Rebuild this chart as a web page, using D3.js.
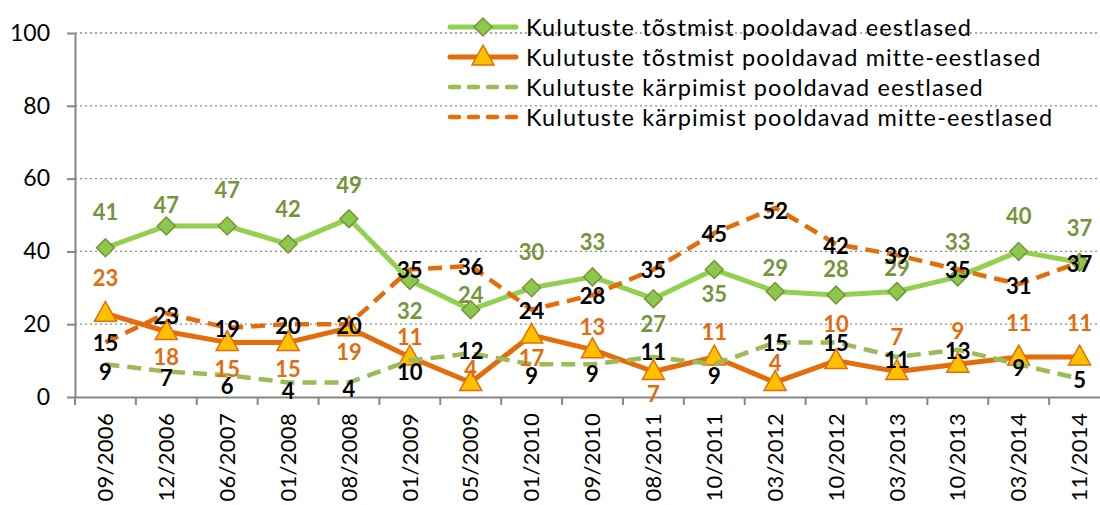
<!DOCTYPE html>
<html>
<head>
<meta charset="utf-8">
<script src="https://cdn.jsdelivr.net/npm/d3@7"></script>
<style>
  body { margin: 0; background: #fff; }
  svg { display: block; font-family: Lato, "Open Sans", sans-serif; }
  .grid line { stroke: #8a8a8a; stroke-width: 1.3; stroke-dasharray: 2 3; }
  .axis path, .axis line { stroke: #878787; stroke-width: 2; }
  .axis text { fill: #000; }
  .vlabel { font-weight: bold; font-size: 22px; text-anchor: middle; dominant-baseline: central; }
  .legend text { font-size: 23.5px; letter-spacing: 1.1px; dominant-baseline: central; }
</style>
</head>
<body>
<svg id="chart" width="1100" height="505"></svg>
<script>
'use strict';

// survey dates
const categories = ['09/2006', '12/2006', '06/2007', '01/2008', '08/2008', '01/2009', '05/2009',
  '01/2010', '09/2010', '08/2011', '10/2011', '03/2012', '10/2012', '03/2013', '10/2013',
  '03/2014', '11/2014'];

const seriesNames = [
  'Kulutuste tõstmist pooldavad eestlased',
  'Kulutuste tõstmist pooldavad mitte-eestlased',
  'Kulutuste kärpimist pooldavad eestlased',
  'Kulutuste kärpimist pooldavad mitte-eestlased',
];

// values in %
const raiseEst = [41, 47, 47, 42, 49, 32, 24, 30, 33, 27, 35, 29, 28, 29, 33, 40, 37];
const raiseNonEst = [23, 18, 15, 15, 19, 11, 4, 17, 13, 7, 11, 4, 10, 7, 9, 11, 11];
const cutEst = [9, 7, 6, 4, 4, 10, 12, 9, 9, 11, 9, 15, 15, 11, 13, 9, 5];
const cutNonEst = [15, 23, 19, 20, 20, 35, 36, 24, 28, 35, 45, 52, 42, 39, 35, 31, 37];

const yTicks = [0, 20, 40, 60, 80, 100];

// where the data labels sit relative to their point (px, vertical)
const labelDy = [
  [-36, -21, -36, -36, -34, 30, -15, -36, -35, 25, 24, -24, -27, -24, -35, -36, -35],
  [-36, 25, 26, 26, 24, -20, -14, 22, -23, 22, -25, -20, -37, -35, -34, -34, -34],
  [7, 6, 10, 8, 6, 11, -3, 11, 9, -5, 11, 0, 0, 3, 1, 3, 1],
  [0, 2, 1, 1, 1, 0, 1, 1, 0, 0, 0, 3, 1, 0, 0, 1, 1],
];

const series = [
  { name: seriesNames[0], values: raiseEst, color: '#92D050', width: 5, dash: null,
    marker: 'diamond', labelColor: '#77933C' },
  { name: seriesNames[1], values: raiseNonEst, color: '#E46C0A', width: 5, dash: null,
    marker: 'triangle', labelColor: '#E46C0A' },
  { name: seriesNames[2], values: cutEst, color: '#9BBB59', width: 4.5, dash: '14 8',
    marker: null, labelColor: '#000' },
  { name: seriesNames[3], values: cutNonEst, color: '#E46C0A', width: 4.5, dash: '14 8',
    marker: null, labelColor: '#000' },
];

const svg = d3.select('#chart');

const x = d3.scaleBand().domain(categories).range([75, 1110]);
const y = d3.scaleLinear().domain([0, 100]).range([397, 33]);
const cx = (i) => x(categories[i]) + x.bandwidth() / 2;

// gridlines
svg.append('g')
  .attr('class', 'grid')
  .selectAll('line')
  .data(yTicks.filter((t) => t > 0))
  .join('line')
  .attr('x1', 75).attr('x2', 1100)
  .attr('y1', (d) => y(d)).attr('y2', (d) => y(d));

// y axis
const yAxis = svg.append('g')
  .attr('class', 'axis')
  .attr('transform', 'translate(75,0)')
  .call(d3.axisLeft(y).tickValues(yTicks).tickSize(8).tickSizeOuter(0).tickPadding(17));
yAxis.selectAll('text').attr('font-size', '23px').attr('font-family', 'Lato, sans-serif');

// x axis
const xAxis = svg.append('g')
  .attr('class', 'axis')
  .attr('transform', 'translate(0,397)')
  .call(d3.axisBottom(x).tickSize(0).tickSizeOuter(0));
xAxis.selectAll('.tick line').remove();
xAxis.selectAll('.bound')
  .data(categories)
  .join('line')
  .attr('class', 'bound')
  .attr('x1', (d) => x(d)).attr('x2', (d) => x(d))
  .attr('y1', 0).attr('y2', 8);
xAxis.selectAll('.tick text')
  .attr('font-size', '22px')
  .attr('font-family', 'Lato, sans-serif')
  .attr('letter-spacing', '0.3px')
  .attr('text-anchor', 'end')
  .attr('dy', '0.35em')
  .attr('transform', 'translate(0,16) rotate(-90)')
  .attr('y', 0)
  .attr('x', 0);

const diamond = d3.symbol().type(d3.symbolSquare).size(160);
const triangle = (s) => `M0,${-s * 0.62}L${s * 0.58},${s * 0.42}L${-s * 0.58},${s * 0.42}Z`;

function drawMarker(g, type, px, py) {
  if (type === 'diamond') {
    g.append('path')
      .attr('d', diamond())
      .attr('transform', `translate(${px},${py}) rotate(45)`)
      .attr('fill', '#8CC84B')
      .attr('stroke', '#77933C')
      .attr('stroke-width', 1.5);
  } else if (type === 'triangle') {
    g.append('path')
      .attr('d', triangle(19))
      .attr('transform', `translate(${px},${py})`)
      .attr('fill', '#FFC000')
      .attr('stroke', '#E46C0A')
      .attr('stroke-width', 1.5);
  }
}

const line = d3.line().x((d, i) => cx(i)).y((d) => y(d));

series.forEach((s) => {
  const g = svg.append('g');
  g.append('path')
    .datum(s.values)
    .attr('d', line)
    .attr('fill', 'none')
    .attr('stroke', s.color)
    .attr('stroke-width', s.width)
    .attr('stroke-linejoin', 'round')
    .attr('stroke-dasharray', s.dash);
  if (s.marker) {
    s.values.forEach((v, i) => drawMarker(g, s.marker, cx(i), y(v)));
  }
});

// data labels on top
series.forEach((s, k) => {
  svg.append('g')
    .selectAll('text')
    .data(s.values)
    .join('text')
    .attr('class', 'vlabel')
    .attr('fill', s.labelColor)
    .attr('x', (d, i) => cx(i))
    .attr('y', (d, i) => y(d) + labelDy[k][i])
    .text((d) => d);
});

// legend
const legend = svg.append('g').attr('class', 'legend');
series.forEach((s, k) => {
  const ly = 27 + k * 30;
  legend.append('line')
    .attr('x1', 450).attr('x2', 516)
    .attr('y1', ly).attr('y2', ly)
    .attr('stroke', s.color)
    .attr('stroke-width', s.width)
    .attr('stroke-linecap', 'round')
    .attr('stroke-dasharray', s.dash ? '9 10' : null);
  if (s.marker) drawMarker(legend, s.marker, 483, ly);
  legend.append('text')
    .attr('x', 526).attr('y', ly)
    .text(s.name);
});
</script>
</body>
</html>
